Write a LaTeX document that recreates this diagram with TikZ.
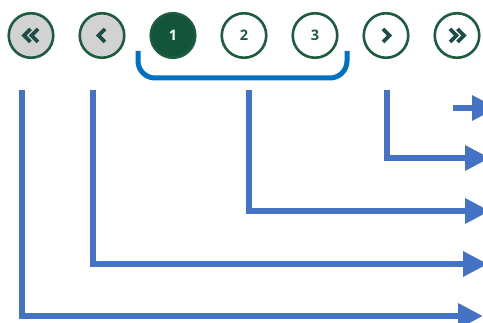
\documentclass[tikz,border=0pt]{standalone}
\usepackage{fontspec}
\setmainfont{Open Sans}
\usetikzlibrary{arrows.meta}
\definecolor{pgreen}{HTML}{1D5C3E}
\definecolor{pfill}{HTML}{13553A}
\definecolor{pgray}{HTML}{D2D2D2}
\definecolor{chev}{HTML}{1D4F48}
\definecolor{conn}{HTML}{4472C4}
\definecolor{brk}{HTML}{0070C0}
\tikzset{
  pagebtn/.style={circle, draw=pgreen, line width=2.6pt, minimum size=44.5pt, inner sep=0pt,
    fill=white, text=pgreen, font=\fontsize{14.5}{16}\selectfont\bfseries},
  navbtn/.style={pagebtn, fill=pgray},
  curbtn/.style={pagebtn, fill=pfill, text=white},
  chevline/.style={draw=chev, line width=3.8pt, line cap=butt, line join=miter},
  connector/.style={draw=conn, line width=6.5pt, line join=miter,
    -{Triangle[length=25pt,width=24pt]}},
  bracket/.style={draw=brk, line width=5pt, rounded corners=17pt}
}
\begin{document}
\begin{tikzpicture}[x=1pt,y=-1pt]
\useasboundingbox (0,0) rectangle (483,323);
% buttons
\node[navbtn] (first) at (31,35.5) {};
\node[navbtn] (prev) at (102,35.5) {};
\node[curbtn] (p1) at (173,35.5) {1};
\node[pagebtn] (p2) at (244,35.5) {2};
\node[pagebtn] (p3) at (315,35.5) {3};
\node[pagebtn] (next) at (386,35.5) {};
\node[pagebtn] (last) at (457,35.5) {};
% chevrons
\draw[chevline] ([shift={(-0.5,-6.5)}]first.center) -- ++(-6.5,6.5) -- ++(6.5,6.5);
\draw[chevline] ([shift={(7,-6.5)}]first.center) -- ++(-6.5,6.5) -- ++(6.5,6.5);
\draw[chevline] ([shift={(3,-6.5)}]prev.center) -- ++(-6.5,6.5) -- ++(6.5,6.5);
\draw[chevline] ([shift={(-3,-6.5)}]next.center) -- ++(6.5,6.5) -- ++(-6.5,6.5);
\draw[chevline] ([shift={(-7,-6.5)}]last.center) -- ++(6.5,6.5) -- ++(-6.5,6.5);
\draw[chevline] ([shift={(0.5,-6.5)}]last.center) -- ++(6.5,6.5) -- ++(-6.5,6.5);
% bracket under page numbers
\coordinate (bl) at (138,51);
\coordinate (br) at (347,51);
\draw[bracket] (bl) |- (244,78) -| (br);
% connectors
\coordinate (s1) at (453,108);
\coordinate (e1) at (497,108);
\coordinate (s2) at (387,90);
\coordinate (e2) at (490,158);
\coordinate (s3) at (249,90);
\coordinate (e3) at (490,211);
\coordinate (s4) at (93,90);
\coordinate (e4) at (488,264);
\coordinate (s5) at (22,90);
\coordinate (e5) at (483,316);
\draw[connector] (s1) -- (e1);
\draw[connector] (s2) |- (e2);
\draw[connector] (s3) |- (e3);
\draw[connector] (s4) |- (e4);
\draw[connector] (s5) |- (e5);
\end{tikzpicture}
\end{document}
